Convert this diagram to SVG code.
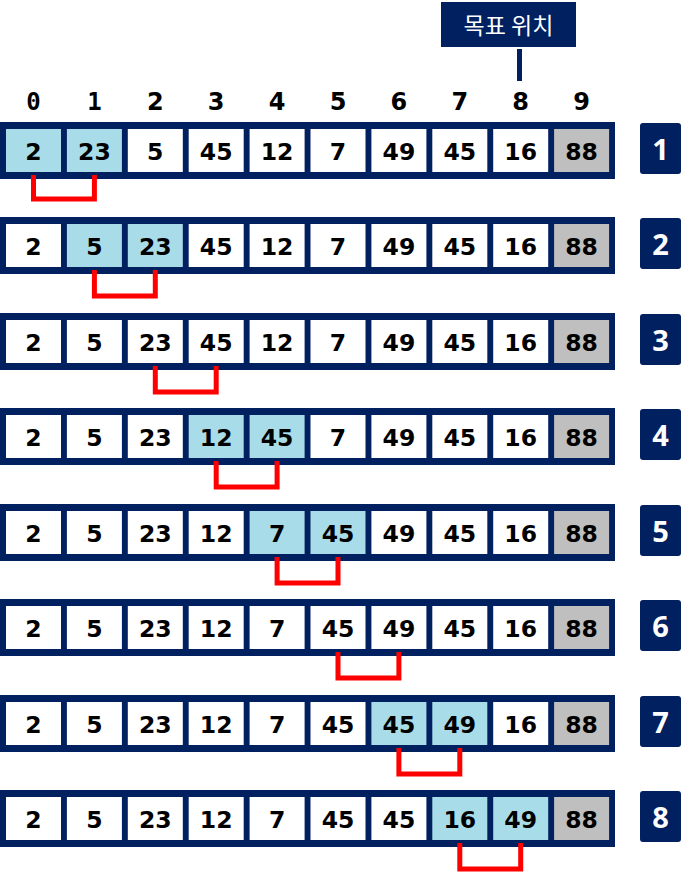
<svg xmlns="http://www.w3.org/2000/svg" width="688" height="874" viewBox="0 0 688 874">
<style>
.frame{fill:#002060}
.c{fill:#fff}
.h{fill:#A9DCE9}
.g{fill:#BFBFBF}
.v{font-family:"DejaVu Sans",Verdana,sans-serif;font-weight:bold;font-size:23.5px;fill:#000;text-anchor:middle}
.idx{font-family:"DejaVu Sans",Verdana,sans-serif;font-weight:bold;font-size:24px;fill:#000;text-anchor:middle}
.mono{font-family:"DejaVu Sans Mono","Liberation Mono",monospace}
.nb{fill:#002060}
.nt{font-family:"Noto Sans","Open Sans",sans-serif;font-weight:bold;font-size:29px;fill:#fff;text-anchor:middle}
.br{fill:none;stroke:#FF0000;stroke-width:5}
</style>
<rect x="0" y="0" width="688" height="874" fill="#fff"/>
<g id="target-label">
<rect x="441" y="2" width="135" height="45" fill="#002060"/>
<text x="508.5" y="34" font-family="'Noto Sans CJK KR',sans-serif" font-size="23" fill="#fff" text-anchor="middle">목표 위치</text>
</g>
<g id="indices">
<text class="idx mono" x="33.5" y="110">0</text>
<text class="idx mono" x="94.4" y="110">1</text>
<text class="idx" x="155.3" y="110">2</text>
<text class="idx" x="216.2" y="110">3</text>
<text class="idx" x="277.1" y="110">4</text>
<text class="idx" x="338" y="110">5</text>
<text class="idx" x="398.9" y="110">6</text>
<text class="idx" x="459.8" y="110">7</text>
<text class="idx" x="520.7" y="110">8</text>
<text class="idx" x="581.6" y="110">9</text>
</g>
<g id="row1" transform="translate(0,122)">
<rect class="frame" x="0" y="0" width="615" height="57"/>
<rect class="h" x="6" y="7" width="55" height="43"/><rect class="h" x="66.9" y="7" width="55" height="43"/><rect class="c" x="127.8" y="7" width="55" height="43"/><rect class="c" x="188.7" y="7" width="55" height="43"/><rect class="c" x="249.6" y="7" width="55" height="43"/><rect class="c" x="310.5" y="7" width="55" height="43"/><rect class="c" x="371.4" y="7" width="55" height="43"/><rect class="c" x="432.3" y="7" width="55" height="43"/><rect class="c" x="493.2" y="7" width="55" height="43"/><rect class="g" x="554.1" y="7" width="55" height="43"/>
<text class="v" x="33.5" y="38">2</text><text class="v" x="94.4" y="38">23</text><text class="v" x="155.3" y="38">5</text><text class="v" x="216.2" y="38">45</text><text class="v" x="277.1" y="38">12</text><text class="v" x="338" y="38">7</text><text class="v" x="398.9" y="38">49</text><text class="v" x="459.8" y="38">45</text><text class="v" x="520.7" y="38">16</text><text class="v" x="581.6" y="38">88</text>
<rect class="nb" x="640" y="1" width="41" height="51" rx="3"/><text class="nt" x="660.5" y="38">1</text>
</g>
<g id="row2" transform="translate(0,217)">
<rect class="frame" x="0" y="0" width="615" height="57"/>
<rect class="c" x="6" y="7" width="55" height="43"/><rect class="h" x="66.9" y="7" width="55" height="43"/><rect class="h" x="127.8" y="7" width="55" height="43"/><rect class="c" x="188.7" y="7" width="55" height="43"/><rect class="c" x="249.6" y="7" width="55" height="43"/><rect class="c" x="310.5" y="7" width="55" height="43"/><rect class="c" x="371.4" y="7" width="55" height="43"/><rect class="c" x="432.3" y="7" width="55" height="43"/><rect class="c" x="493.2" y="7" width="55" height="43"/><rect class="g" x="554.1" y="7" width="55" height="43"/>
<text class="v" x="33.5" y="38">2</text><text class="v" x="94.4" y="38">5</text><text class="v" x="155.3" y="38">23</text><text class="v" x="216.2" y="38">45</text><text class="v" x="277.1" y="38">12</text><text class="v" x="338" y="38">7</text><text class="v" x="398.9" y="38">49</text><text class="v" x="459.8" y="38">45</text><text class="v" x="520.7" y="38">16</text><text class="v" x="581.6" y="38">88</text>
<rect class="nb" x="640" y="1" width="41" height="51" rx="3"/><text class="nt" x="660.5" y="38">2</text>
</g>
<g id="row3" transform="translate(0,313)">
<rect class="frame" x="0" y="0" width="615" height="57"/>
<rect class="c" x="6" y="7" width="55" height="43"/><rect class="c" x="66.9" y="7" width="55" height="43"/><rect class="c" x="127.8" y="7" width="55" height="43"/><rect class="c" x="188.7" y="7" width="55" height="43"/><rect class="c" x="249.6" y="7" width="55" height="43"/><rect class="c" x="310.5" y="7" width="55" height="43"/><rect class="c" x="371.4" y="7" width="55" height="43"/><rect class="c" x="432.3" y="7" width="55" height="43"/><rect class="c" x="493.2" y="7" width="55" height="43"/><rect class="g" x="554.1" y="7" width="55" height="43"/>
<text class="v" x="33.5" y="38">2</text><text class="v" x="94.4" y="38">5</text><text class="v" x="155.3" y="38">23</text><text class="v" x="216.2" y="38">45</text><text class="v" x="277.1" y="38">12</text><text class="v" x="338" y="38">7</text><text class="v" x="398.9" y="38">49</text><text class="v" x="459.8" y="38">45</text><text class="v" x="520.7" y="38">16</text><text class="v" x="581.6" y="38">88</text>
<rect class="nb" x="640" y="1" width="41" height="51" rx="3"/><text class="nt" x="660.5" y="38">3</text>
</g>
<g id="row4" transform="translate(0,408)">
<rect class="frame" x="0" y="0" width="615" height="57"/>
<rect class="c" x="6" y="7" width="55" height="43"/><rect class="c" x="66.9" y="7" width="55" height="43"/><rect class="c" x="127.8" y="7" width="55" height="43"/><rect class="h" x="188.7" y="7" width="55" height="43"/><rect class="h" x="249.6" y="7" width="55" height="43"/><rect class="c" x="310.5" y="7" width="55" height="43"/><rect class="c" x="371.4" y="7" width="55" height="43"/><rect class="c" x="432.3" y="7" width="55" height="43"/><rect class="c" x="493.2" y="7" width="55" height="43"/><rect class="g" x="554.1" y="7" width="55" height="43"/>
<text class="v" x="33.5" y="38">2</text><text class="v" x="94.4" y="38">5</text><text class="v" x="155.3" y="38">23</text><text class="v" x="216.2" y="38">12</text><text class="v" x="277.1" y="38">45</text><text class="v" x="338" y="38">7</text><text class="v" x="398.9" y="38">49</text><text class="v" x="459.8" y="38">45</text><text class="v" x="520.7" y="38">16</text><text class="v" x="581.6" y="38">88</text>
<rect class="nb" x="640" y="1" width="41" height="51" rx="3"/><text class="nt" x="660.5" y="38">4</text>
</g>
<g id="row5" transform="translate(0,504)">
<rect class="frame" x="0" y="0" width="615" height="57"/>
<rect class="c" x="6" y="7" width="55" height="43"/><rect class="c" x="66.9" y="7" width="55" height="43"/><rect class="c" x="127.8" y="7" width="55" height="43"/><rect class="c" x="188.7" y="7" width="55" height="43"/><rect class="h" x="249.6" y="7" width="55" height="43"/><rect class="h" x="310.5" y="7" width="55" height="43"/><rect class="c" x="371.4" y="7" width="55" height="43"/><rect class="c" x="432.3" y="7" width="55" height="43"/><rect class="c" x="493.2" y="7" width="55" height="43"/><rect class="g" x="554.1" y="7" width="55" height="43"/>
<text class="v" x="33.5" y="38">2</text><text class="v" x="94.4" y="38">5</text><text class="v" x="155.3" y="38">23</text><text class="v" x="216.2" y="38">12</text><text class="v" x="277.1" y="38">7</text><text class="v" x="338" y="38">45</text><text class="v" x="398.9" y="38">49</text><text class="v" x="459.8" y="38">45</text><text class="v" x="520.7" y="38">16</text><text class="v" x="581.6" y="38">88</text>
<rect class="nb" x="640" y="1" width="41" height="51" rx="3"/><text class="nt" x="660.5" y="38">5</text>
</g>
<g id="row6" transform="translate(0,599)">
<rect class="frame" x="0" y="0" width="615" height="57"/>
<rect class="c" x="6" y="7" width="55" height="43"/><rect class="c" x="66.9" y="7" width="55" height="43"/><rect class="c" x="127.8" y="7" width="55" height="43"/><rect class="c" x="188.7" y="7" width="55" height="43"/><rect class="c" x="249.6" y="7" width="55" height="43"/><rect class="c" x="310.5" y="7" width="55" height="43"/><rect class="c" x="371.4" y="7" width="55" height="43"/><rect class="c" x="432.3" y="7" width="55" height="43"/><rect class="c" x="493.2" y="7" width="55" height="43"/><rect class="g" x="554.1" y="7" width="55" height="43"/>
<text class="v" x="33.5" y="38">2</text><text class="v" x="94.4" y="38">5</text><text class="v" x="155.3" y="38">23</text><text class="v" x="216.2" y="38">12</text><text class="v" x="277.1" y="38">7</text><text class="v" x="338" y="38">45</text><text class="v" x="398.9" y="38">49</text><text class="v" x="459.8" y="38">45</text><text class="v" x="520.7" y="38">16</text><text class="v" x="581.6" y="38">88</text>
<rect class="nb" x="640" y="1" width="41" height="51" rx="3"/><text class="nt" x="660.5" y="38">6</text>
</g>
<g id="row7" transform="translate(0,695)">
<rect class="frame" x="0" y="0" width="615" height="57"/>
<rect class="c" x="6" y="7" width="55" height="43"/><rect class="c" x="66.9" y="7" width="55" height="43"/><rect class="c" x="127.8" y="7" width="55" height="43"/><rect class="c" x="188.7" y="7" width="55" height="43"/><rect class="c" x="249.6" y="7" width="55" height="43"/><rect class="c" x="310.5" y="7" width="55" height="43"/><rect class="h" x="371.4" y="7" width="55" height="43"/><rect class="h" x="432.3" y="7" width="55" height="43"/><rect class="c" x="493.2" y="7" width="55" height="43"/><rect class="g" x="554.1" y="7" width="55" height="43"/>
<text class="v" x="33.5" y="38">2</text><text class="v" x="94.4" y="38">5</text><text class="v" x="155.3" y="38">23</text><text class="v" x="216.2" y="38">12</text><text class="v" x="277.1" y="38">7</text><text class="v" x="338" y="38">45</text><text class="v" x="398.9" y="38">45</text><text class="v" x="459.8" y="38">49</text><text class="v" x="520.7" y="38">16</text><text class="v" x="581.6" y="38">88</text>
<rect class="nb" x="640" y="1" width="41" height="51" rx="3"/><text class="nt" x="660.5" y="38">7</text>
</g>
<g id="row8" transform="translate(0,790)">
<rect class="frame" x="0" y="0" width="615" height="57"/>
<rect class="c" x="6" y="7" width="55" height="43"/><rect class="c" x="66.9" y="7" width="55" height="43"/><rect class="c" x="127.8" y="7" width="55" height="43"/><rect class="c" x="188.7" y="7" width="55" height="43"/><rect class="c" x="249.6" y="7" width="55" height="43"/><rect class="c" x="310.5" y="7" width="55" height="43"/><rect class="c" x="371.4" y="7" width="55" height="43"/><rect class="h" x="432.3" y="7" width="55" height="43"/><rect class="h" x="493.2" y="7" width="55" height="43"/><rect class="g" x="554.1" y="7" width="55" height="43"/>
<text class="v" x="33.5" y="38">2</text><text class="v" x="94.4" y="38">5</text><text class="v" x="155.3" y="38">23</text><text class="v" x="216.2" y="38">12</text><text class="v" x="277.1" y="38">7</text><text class="v" x="338" y="38">45</text><text class="v" x="398.9" y="38">45</text><text class="v" x="459.8" y="38">16</text><text class="v" x="520.7" y="38">49</text><text class="v" x="581.6" y="38">88</text>
<rect class="nb" x="640" y="1" width="41" height="51" rx="3"/><text class="nt" x="660.5" y="38">8</text>
</g>
<g id="connectors">
<line x1="519.5" y1="49" x2="519.5" y2="81" stroke="#002060" stroke-width="5"/>
<path class="br" d="M33.5,175 V199 H94.4 V175"/>
<path class="br" d="M94.4,270 V296 H155.3 V270"/>
<path class="br" d="M155.3,366 V392 H216.2 V366"/>
<path class="br" d="M216.2,461 V487 H277.1 V461"/>
<path class="br" d="M277.1,557 V583 H338 V557"/>
<path class="br" d="M338,652 V678 H398.9 V652"/>
<path class="br" d="M398.9,748 V774 H459.8 V748"/>
<path class="br" d="M459.8,843 V869 H520.7 V843"/>
</g>
</svg>
